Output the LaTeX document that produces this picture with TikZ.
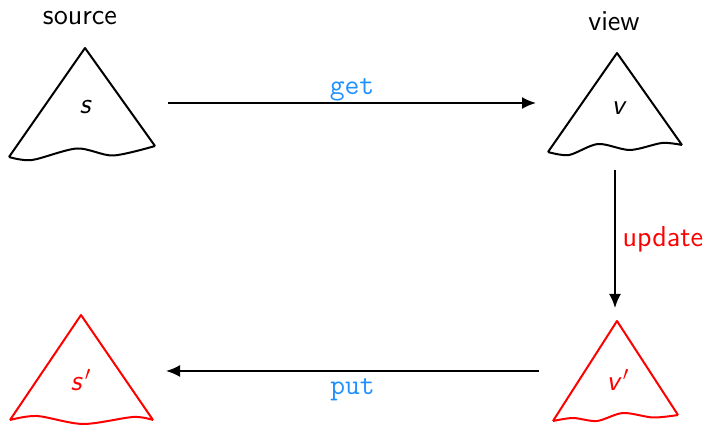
\documentclass[tikz,border=0pt]{standalone}
\usepackage{tikz}
\usetikzlibrary{positioning, arrows.meta}
\renewcommand{\familydefault}{\sfdefault}
\definecolor{cblue}{RGB}{30,144,255}

\begin{document}
\begin{tikzpicture}[x=0.5pt, y=-0.5pt, line width=1pt, font=\Large,
	tree/.style={line width=1pt, line join=round},
	lbl/.style={font=\Large\itshape},
	op/.style={font=\Large\ttfamily, text=cblue}]
	\useasboundingbox (0,0) rectangle (708,426);

	% the four trees
	\draw[tree] (9,157) -- (85,48) -- (155,146)
		plot[smooth] coordinates {(155,146) (113,155.5) (77,148.5) (32,160) (9,157)};
	\draw[tree] (548,152) -- (617,53) -- (682,145)
		plot[smooth] coordinates {(682,145) (662,143) (630,150) (598,144) (569,155) (548,152)};
	\draw[tree, red] (10,420) -- (81,315) -- (153,420)
		plot[smooth] coordinates {(153,420) (133,417) (83,424) (37,416) (10,420)};
	\draw[tree, red] (553,421) -- (617,321) -- (678,415)
		plot[smooth] coordinates {(678,415) (653,417.5) (623,413) (597,421) (573,418) (553,421)};

	\node[lbl] (s) at (85,107) {s};
	\node[lbl] (v) at (618,108) {v};
	\node[lbl, red] (s2) at (81,380) {s$^{\,\prime}$};
	\node[lbl, red] (v2) at (618,380) {v$^{\,\prime}$};
	\node (src) at (80,18) {source};
	\node (view) at (614,21) {view};

	\coordinate (s-r) at (168,103);
	\coordinate (v-l) at (536,103);
	\coordinate (v-b) at (615,170);
	\coordinate (v2-t) at (615,308);
	\coordinate (v2-l) at (539,371);
	\coordinate (s2-r) at (166,371);

	\path [-{Latex[length=7pt, width=6pt]}]
		(s-r) edge[] node[op, above=-3pt]{get} (v-l)
		(v-b) edge[] node[right, red]{update} (v2-t)
		(v2-l) edge[] node[op, below]{put} (s2-r)
		;
\end{tikzpicture}
\end{document}
